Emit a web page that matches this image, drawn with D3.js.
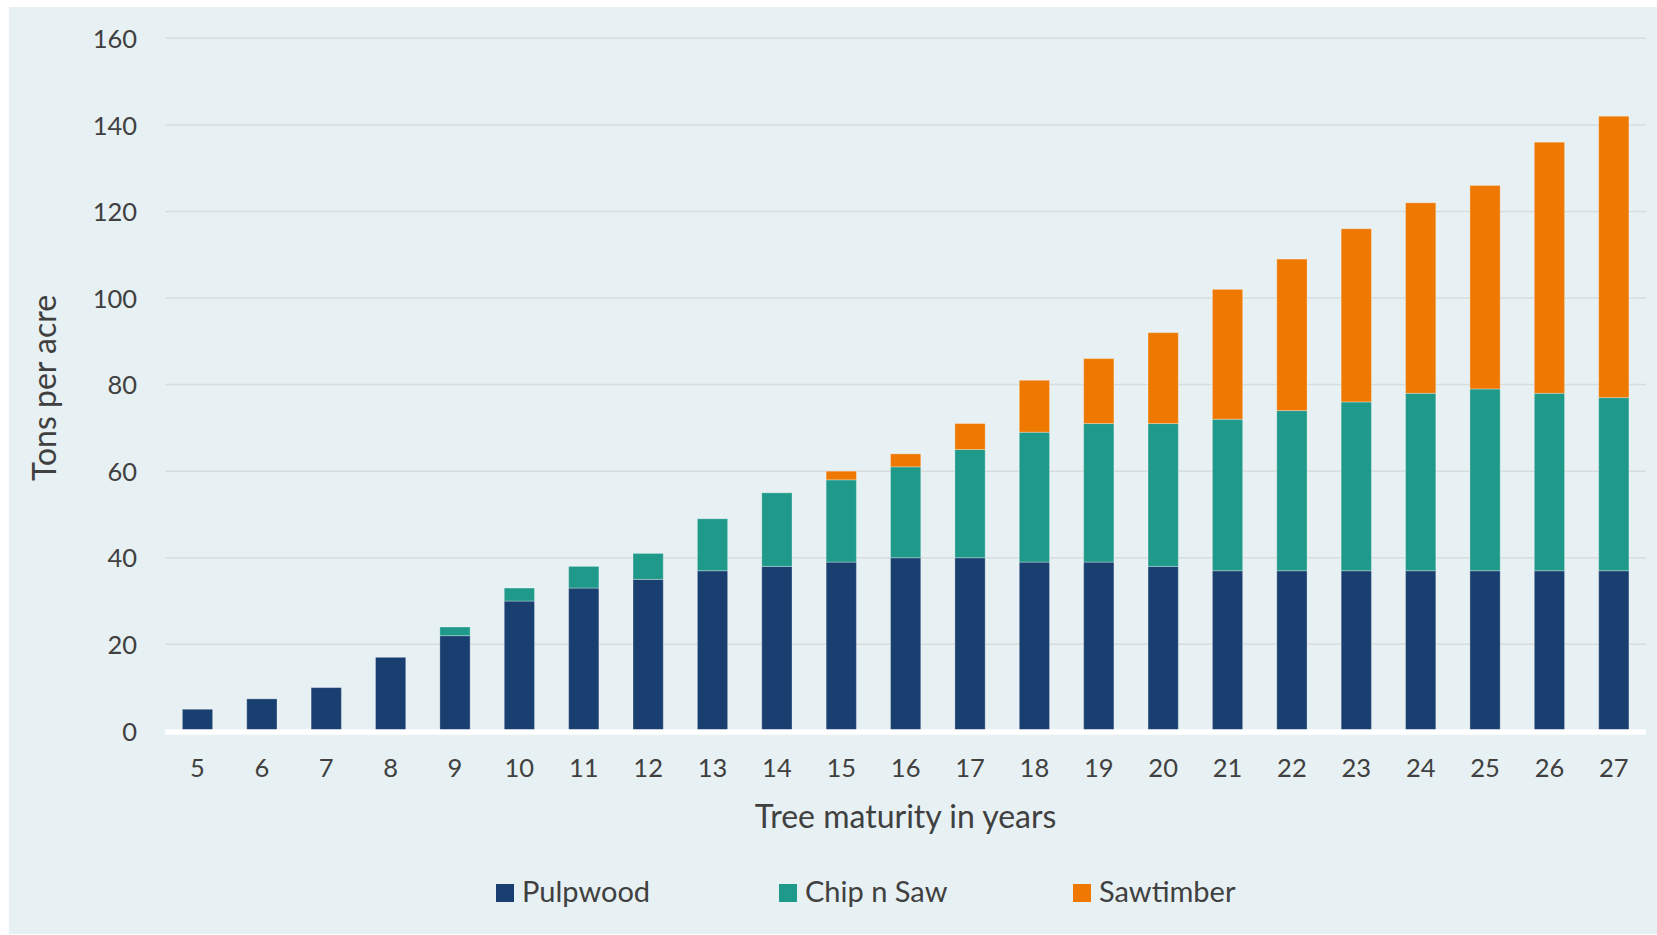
<!DOCTYPE html>
<html>
<head>
<meta charset="utf-8">
<script src="https://cdn.jsdelivr.net/npm/d3@7"></script>
<style>
  html, body { margin: 0; padding: 0; background: #ffffff; }
  svg { display: block; }
  text { font-family: Lato, "Open Sans", sans-serif; fill: #404040; }
</style>
</head>
<body>
<svg id="chart" width="1657" height="935"></svg>
<script>
// ---- Data ----
const years = [5, 6, 7, 8, 9, 10, 11, 12, 13, 14, 15, 16, 17, 18, 19, 20, 21, 22, 23, 24, 25, 26, 27];
const pulpwood = [5, 7.4, 10, 17, 22, 30, 33, 35, 37, 38, 39, 40, 40, 39, 39, 38, 37, 37, 37, 37, 37, 37, 37];
const chipNSaw = [0, 0, 0, 0, 2, 3, 5, 6, 12, 17, 19, 21, 25, 30, 32, 33, 35, 37, 39, 41, 42, 41, 40];
const sawtimber = [0, 0, 0, 0, 0, 0, 0, 0, 0, 0, 2, 3, 6, 12, 15, 21, 30, 35, 40, 44, 47, 58, 65];
const seriesNames = ["Pulpwood", "Chip n Saw", "Sawtimber"];
const seriesColors = ["#183f70", "#1f998a", "#ee7800"];
const yTicks = [0, 20, 40, 60, 80, 100, 120, 140, 160];
const xTitle = "Tree maturity in years";
const yTitle = "Tons per acre";

// ---- Layout ----
const svg = d3.select("#chart");
const W = 1657, H = 935;
const plot = { left: 165.3, right: 1646, top: 38.3, bottom: 730.9 };

svg.append("rect").attr("x", 9).attr("y", 7).attr("width", W - 9).attr("height", 927)
  .attr("fill", "#e7f0f3");

const rows = years.map((y, i) => ({ year: y, "Pulpwood": pulpwood[i], "Chip n Saw": chipNSaw[i], "Sawtimber": sawtimber[i] }));

const x = d3.scaleBand().domain(years).range([plot.left, plot.right]).paddingInner(0.53).paddingOuter(0.265);
const y = d3.scaleLinear().domain([0, 160]).range([plot.bottom, plot.top]);

// gridlines
svg.append("g").selectAll("line").data(yTicks.filter(t => t > 0)).join("line")
  .attr("x1", plot.left).attr("x2", plot.right)
  .attr("y1", d => y(d)).attr("y2", d => y(d))
  .attr("stroke", "#d8dcdd").attr("stroke-width", 1.5);

// y axis labels
const yAxis = d3.axisLeft(y).tickValues(yTicks).tickSize(0).tickPadding(0);
const gy = svg.append("g").attr("transform", `translate(137,0)`).call(yAxis);
gy.select(".domain").remove();
gy.selectAll("text").attr("font-size", 25.5).attr("fill", "#404040")
  .style("font-family", "Lato, 'Open Sans', sans-serif").attr("dy", "0.36em");

// stacked bars
const stack = d3.stack().keys(seriesNames);
const stacked = stack(rows);
svg.append("g").selectAll("g").data(stacked).join("g")
  .attr("fill", (d, i) => seriesColors[i])
  .selectAll("rect").data(d => d.filter(p => p[1] - p[0] > 0)).join("rect")
  .attr("x", d => x(d.data.year))
  .attr("width", x.bandwidth())
  .attr("y", d => y(d[1]))
  .attr("height", d => y(d[0]) - y(d[1]))
  .attr("stroke", "rgba(255,255,255,0.3)").attr("stroke-width", 1);

// x axis white baseline
svg.append("line").attr("x1", plot.left).attr("x2", plot.right)
  .attr("y1", y(0) + 1).attr("y2", y(0) + 1)
  .attr("stroke", "#ffffff").attr("stroke-width", 5.5);

// x axis labels
const xAxis = d3.axisBottom(x).tickSize(0).tickPadding(0);
const gx = svg.append("g").attr("transform", `translate(0,777)`).call(xAxis);
gx.select(".domain").remove();
gx.selectAll("text").attr("font-size", 25.5).attr("fill", "#404040").attr("dy", 0)
  .style("font-family", "Lato, 'Open Sans', sans-serif");

// axis titles
svg.append("text").attr("x", (plot.left + plot.right) / 2).attr("y", 828)
  .attr("text-anchor", "middle").attr("font-size", 32).text(xTitle);
svg.append("text").attr("transform", `translate(56,388) rotate(-90)`)
  .attr("text-anchor", "middle").attr("font-size", 32).text(yTitle);

// legend
const legendX = [496, 779, 1073];
const lg = svg.append("g").selectAll("g").data(seriesNames).join("g")
  .attr("transform", (d, i) => `translate(${legendX[i]},884)`);
lg.append("rect").attr("width", 18).attr("height", 18).attr("fill", (d, i) => seriesColors[i]);
lg.append("text").attr("x", 26).attr("y", 18).attr("font-size", 29).text(d => d);
</script>
</body>
</html>
